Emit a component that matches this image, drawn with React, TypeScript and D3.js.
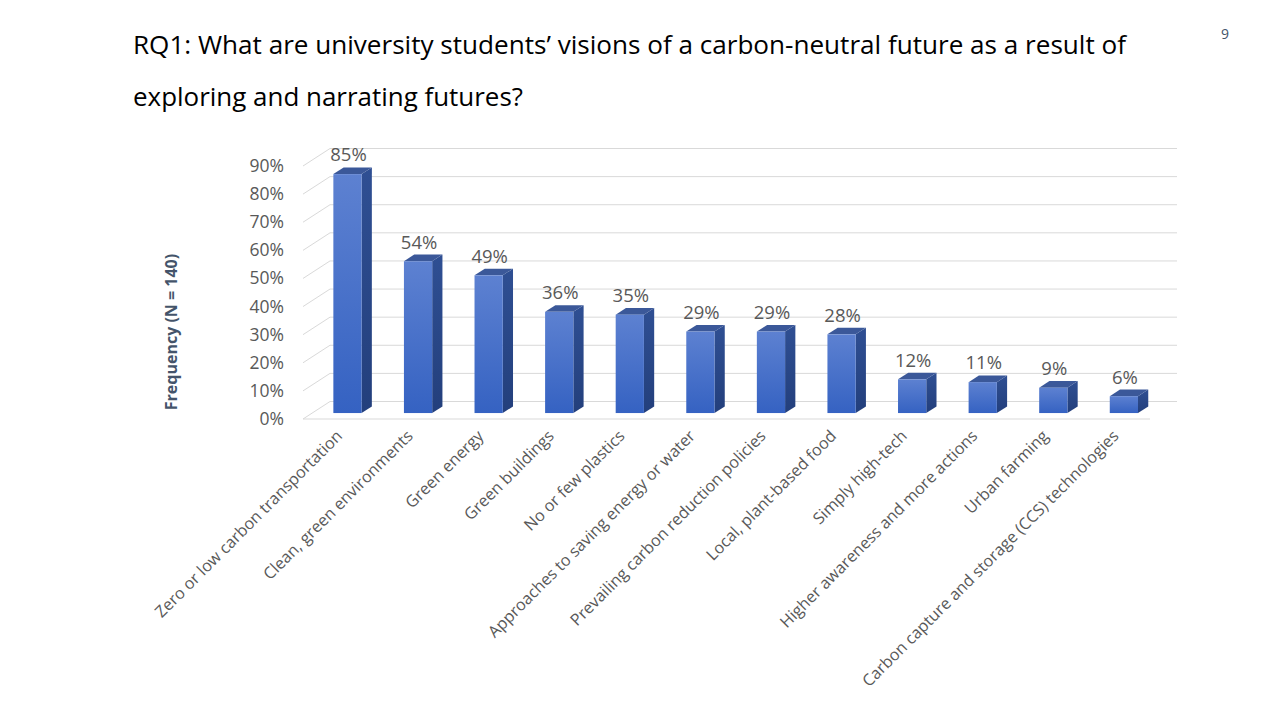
import * as d3 from "d3";

const categories = [
  "Zero or low carbon transportation",
  "Clean, green environments",
  "Green energy",
  "Green buildings",
  "No or few plastics",
  "Approaches to saving energy or water",
  "Prevailing carbon reduction policies",
  "Local, plant-based food",
  "Simply high-tech",
  "Higher awareness and more actions",
  "Urban farming",
  "Carbon capture and storage (CCS) technologies",
];
const values = [0.85, 0.54, 0.49, 0.36, 0.35, 0.29, 0.29, 0.28, 0.12, 0.11, 0.09, 0.06];
const tickValues = [0, 0.1, 0.2, 0.3, 0.4, 0.5, 0.6, 0.7, 0.8, 0.9];

const titleLines = [
  "RQ1: What are university students\u2019 visions of a carbon-neutral future as a result of",
  "exploring and narrating futures?",
];

// oblique depth of the 3D plot box
const DEPTH_X = 27;
const DEPTH_Y = -17.5;
const BAR_FRONT = 0.34;
const BAR_BACK = 0.72;

export default function App() {
  const width = 1280;
  const height = 720;

  const x = d3
    .scaleBand()
    .domain(categories)
    .range([303, 1150])
    .paddingInner(0.6)
    .paddingOuter(0.3);

  const y = d3.scaleLinear().domain([0, 0.9]).range([419, 166]);
  const fmt = d3.format(".0%");

  const fx = BAR_FRONT * DEPTH_X;
  const fy = BAR_FRONT * DEPTH_Y;
  const sx = (BAR_BACK - BAR_FRONT) * DEPTH_X;
  const sy = (BAR_BACK - BAR_FRONT) * DEPTH_Y;

  const [x0, x1] = x.range();

  return (
    <svg
      width={width}
      height={height}
      style={{ position: "absolute", left: 0, top: 0, background: "#fff" }}
      fontFamily="'Open Sans', sans-serif"
    >
      <defs>
        <linearGradient id="front" x1="0" y1="0" x2="0" y2="1">
          <stop offset="0%" stopColor="#5d81d1" />
          <stop offset="100%" stopColor="#3562c2" />
        </linearGradient>
        <linearGradient id="side" x1="0" y1="0" x2="0" y2="1">
          <stop offset="0%" stopColor="#2f4f93" />
          <stop offset="100%" stopColor="#233f7c" />
        </linearGradient>
      </defs>

      {/* title */}
      <text x={133} y={54} fontSize={26} fill="#000" textLength={993} lengthAdjust="spacingAndGlyphs">
        {titleLines[0]}
      </text>
      <text x={133} y={106} fontSize={26} fill="#000" textLength={390} lengthAdjust="spacingAndGlyphs">
        {titleLines[1]}
      </text>
      <text x={1225} y={39} fontSize={14} fill="#44546a" textAnchor="middle">
        9
      </text>

      {/* walls: left wall diagonals + back wall gridlines */}
      <g stroke="#d9d9d9" strokeWidth={1} fill="none">
        {tickValues.map((t) => (
          <g key={t}>
            <line x1={x0} y1={y(t)} x2={x0 + DEPTH_X} y2={y(t) + DEPTH_Y} />
            <line x1={x0 + DEPTH_X} y1={y(t) + DEPTH_Y} x2={x1 + DEPTH_X} y2={y(t) + DEPTH_Y} />
          </g>
        ))}
        <line x1={x0} y1={y(0)} x2={x1} y2={y(0)} />
      </g>

      {/* y tick labels */}
      <g fontSize={17.5} fill="#595959" textAnchor="end">
        {tickValues.map((t) => (
          <text key={t} x={284} y={y(t) + 6}>
            {fmt(t)}
          </text>
        ))}
      </g>

      <text
        transform={`translate(177,332) rotate(-90)`}
        textAnchor="middle"
        fontSize={16}
        fontWeight="bold"
        fill="#44546a"
      >
        Frequency (N = 140)
      </text>

      {/* bars */}
      {categories.map((c, i) => {
        const v = values[i];
        const bx = (x(c) ?? 0) + fx;
        const bw = x.bandwidth();
        const top = y(v) + fy;
        const base = y(0) + fy;
        const topFace = `M${bx},${top} L${bx + sx},${top + sy} L${bx + bw + sx},${top + sy} L${bx + bw},${top} Z`;
        const sideFace = `M${bx + bw},${top} L${bx + bw + sx},${top + sy} L${bx + bw + sx},${base + sy} L${bx + bw},${base} Z`;
        return (
          <g key={c}>
            <path d={sideFace} fill="url(#side)" />
            <path d={topFace} fill="#3b5899" />
            <rect x={bx} y={top} width={bw} height={base - top} fill="url(#front)" />
            <text
              x={bx + bw / 2 + 1}
              y={top + sy - 6}
              textAnchor="middle"
              fontSize={18.5}
              fill="#595959"
            >
              {fmt(v)}
            </text>
          </g>
        );
      })}

      {/* category labels */}
      <g fontSize={16.2} fill="#595959" textAnchor="end">
        {categories.map((c) => {
          const cx = (x(c) ?? 0) + x.bandwidth() / 2 + 5;
          return (
            <text key={c} transform={`translate(${cx},${437}) rotate(-45)`}>
              {c}
            </text>
          );
        })}
      </g>
    </svg>
  );
}
